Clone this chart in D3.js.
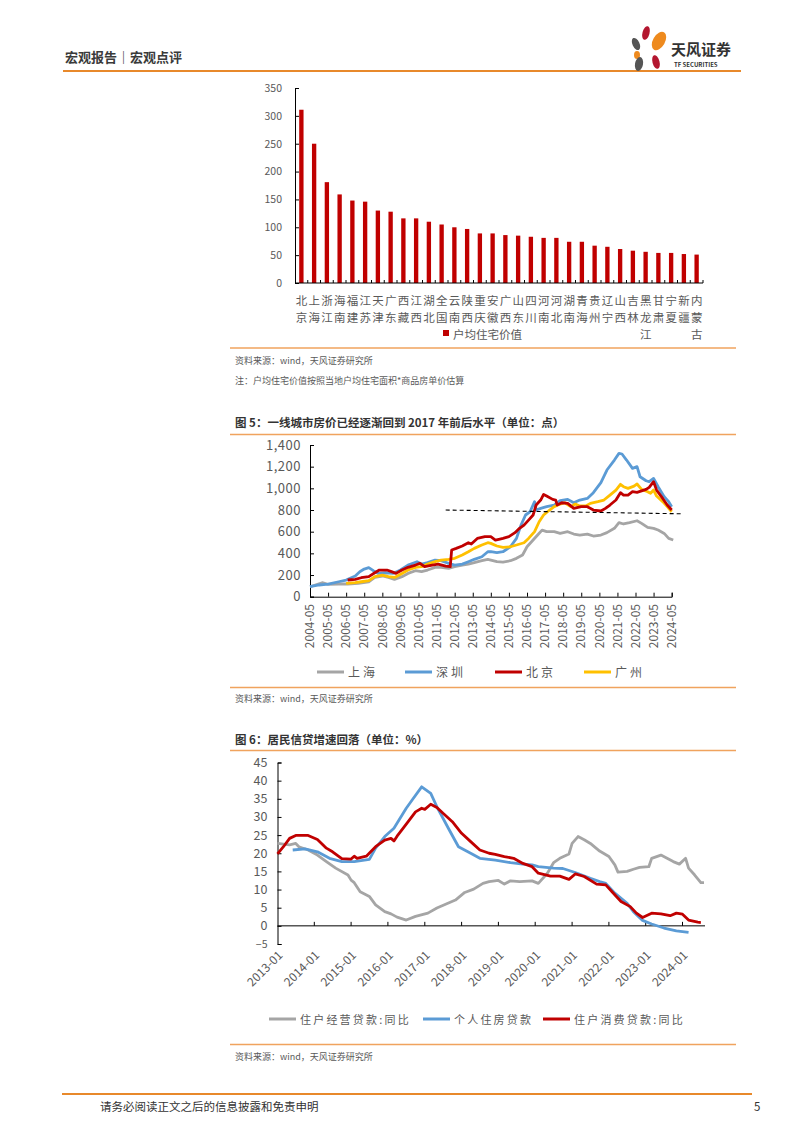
<!DOCTYPE html>
<html><head><meta charset="utf-8">
<script src="https://cdn.jsdelivr.net/npm/d3@7"></script>
<style>
html,body{margin:0;padding:0;background:#fff;}
svg{display:block;}
text{font-family:"Noto Sans CJK SC","Noto Sans",sans-serif;}
</style></head><body>
<svg id="page" width="802" height="1133"></svg>
<script>
// ---------- data: bar chart ----------
const barCats = ["北京","上海","浙江","海南","福建","江苏","天津","广东","西藏","江西","湖北","全国","云南","陕西","重庆","安徽","广西","山东","四川","河南","河北","湖南","青海","贵州","辽宁","山西","吉林","黑龙江","甘肃","宁夏","新疆","内蒙古"];
const barValues = [311,250,181,159,148,146,130,128,116,116,110,105,100,97,89,89,86,85,83,81,81,74,74,67,65,61,58,56,54,54,52,51];
const barTicks = [0,50,100,150,200,250,300,350];
const barLegend = "户均住宅价值";

// ---------- data: figure 5 ----------
const c5TickVals = [0,200,400,600,800,1000,1200,1400];
const c5XLabels = ["2004-05","2005-05","2006-05","2007-05","2008-05","2009-05","2010-05","2011-05","2012-05","2013-05","2014-05","2015-05","2016-05","2017-05","2018-05","2019-05","2020-05","2021-05","2022-05","2023-05","2024-05"];
const c5Names = ["上海","深圳","北京","广州"];
const shDates = ["2004-05","2005-01","2005-05","2005-12","2006-06","2007-01","2007-08","2007-12","2008-05","2008-09","2009-01","2009-06","2009-10","2010-03","2010-07","2010-11","2011-04","2011-08","2012-01","2012-05","2012-10","2013-02","2013-06","2013-11","2014-03","2014-05","2014-09","2015-01","2015-06","2015-10","2016-02","2016-05","2016-09","2016-12","2017-03","2017-06","2017-11","2018-03","2018-08","2018-12","2019-04","2019-09","2020-01","2020-06","2020-10","2021-03","2021-06","2021-09","2022-01","2022-06","2022-09","2023-01","2023-05","2023-08","2023-12","2024-03","2024-06"];
const shValues = [92,129,114,117,117,123,138,178,191,178,160,185,215,240,231,246,271,271,261,277,292,301,314,332,345,338,323,320,332,354,385,461,523,569,615,600,600,584,600,578,569,578,560,569,591,631,683,671,683,701,677,640,631,615,584,538,523];
const szDates = ["2004-05","2004-11","2005-05","2005-12","2006-05","2006-11","2007-02","2007-05","2007-08","2007-11","2008-02","2008-07","2008-12","2009-05","2009-10","2010-04","2010-07","2010-11","2011-04","2011-08","2012-01","2012-05","2012-10","2013-02","2013-06","2013-11","2014-03","2014-05","2014-09","2015-01","2015-06","2015-10","2016-01","2016-04","2016-07","2016-10","2016-11","2017-02","2017-06","2017-11","2018-03","2018-08","2018-12","2019-04","2019-09","2020-01","2020-06","2020-10","2021-03","2021-06","2021-08","2021-11","2022-03","2022-06","2022-08","2022-12","2023-02","2023-05","2023-08","2023-12","2024-03","2024-05"];
const szValues = [92,108,117,138,154,191,231,255,268,240,215,221,215,246,292,323,301,314,338,332,308,292,301,323,345,369,415,415,406,415,461,538,661,754,784,877,800,815,831,846,886,898,867,892,907,960,1052,1169,1261,1323,1317,1261,1184,1200,1107,1070,1061,1092,1015,923,877,831];
const bjDates = ["2006-06","2006-11","2007-03","2007-08","2007-12","2008-03","2008-08","2008-11","2009-02","2009-06","2009-10","2010-03","2010-06","2010-09","2011-02","2011-06","2011-11","2012-02","2012-03","2012-06","2012-10","2013-02","2013-04","2013-08","2014-01","2014-05","2014-08","2014-11","2015-01","2015-05","2015-09","2015-12","2016-03","2016-06","2016-09","2016-11","2017-02","2017-04","2017-06","2017-10","2017-12","2018-01","2018-04","2018-08","2018-12","2019-05","2019-09","2020-01","2020-06","2020-09","2020-12","2021-04","2021-07","2021-09","2021-12","2022-03","2022-06","2022-12","2023-02","2023-05","2023-07","2023-11","2024-02","2024-05"];
const bjValues = [154,160,175,185,221,246,246,231,215,246,271,292,308,277,292,301,283,277,431,446,468,498,486,538,554,554,523,532,538,554,591,631,661,707,754,846,892,944,929,898,892,846,867,861,815,831,831,800,791,815,846,892,960,938,938,969,963,990,1009,1061,984,907,846,800];
const gzDates = ["2006-05","2006-11","2007-03","2007-08","2007-12","2008-05","2008-09","2009-01","2009-06","2009-10","2010-03","2010-07","2010-11","2011-04","2011-08","2012-01","2012-05","2012-10","2013-02","2013-06","2013-11","2014-03","2014-05","2014-09","2015-01","2015-06","2015-10","2016-03","2016-06","2016-10","2017-01","2017-04","2017-08","2017-11","2018-03","2018-06","2018-10","2019-01","2019-04","2019-08","2019-11","2020-04","2020-08","2020-12","2021-04","2021-07","2021-09","2021-12","2022-04","2022-06","2022-09","2023-01","2023-03","2023-05","2023-07","2023-11","2024-02","2024-05"];
const gzValues = [123,129,138,148,185,200,185,178,215,246,271,277,301,323,338,345,354,385,415,446,477,498,492,468,455,461,477,498,538,600,692,754,800,831,855,867,831,855,837,837,861,877,892,938,984,1037,1015,1000,1021,1040,990,969,954,984,929,877,831,784];
const refDates = ["2011-11","2024-12"];
const refValues = [800,765];

// ---------- data: figure 6 ----------
const c6TickVals = [-5,0,5,10,15,20,25,30,35,40,45];
const c6XLabels = ["2013-01","2014-01","2015-01","2016-01","2017-01","2018-01","2019-01","2020-01","2021-01","2022-01","2023-01","2024-01"];
const c6Names = ["住户经营贷款:同比","个人住房贷款","住户消费贷款:同比"];
const bizDates = ["2013-01","2013-03","2013-05","2013-07","2013-08","2013-11","2014-02","2014-05","2014-08","2014-12","2015-01","2015-02","2015-04","2015-07","2015-09","2015-12","2016-02","2016-04","2016-07","2016-10","2017-02","2017-05","2017-08","2017-11","2018-02","2018-05","2018-08","2018-10","2019-01","2019-03","2019-05","2019-08","2019-12","2020-02","2020-05","2020-07","2020-09","2020-12","2021-01","2021-03","2021-05","2021-07","2021-10","2022-01","2022-03","2022-04","2022-07","2022-09","2022-11","2023-02","2023-03","2023-06","2023-08","2023-10","2023-12","2024-02","2024-03","2024-05","2024-07","2024-08"];
const bizValues = [22.7,22.5,22.3,22.7,21.8,20.9,19.5,17.7,15.9,14.0,12.6,11.9,9.4,8.1,5.8,3.9,3.3,2.4,1.6,2.6,3.5,4.9,6.0,7.1,9.2,10.1,11.7,12.2,12.5,11.5,12.4,12.2,12.4,11.7,14.5,17.4,18.6,19.8,22.7,24.6,23.7,22.7,20.6,19.1,16.8,14.8,15.0,15.6,16.1,16.3,18.6,19.5,18.6,17.7,17.0,18.6,15.9,14.0,11.9,11.9];
const mortDates = ["2013-06","2013-10","2014-02","2014-06","2014-10","2015-02","2015-07","2015-09","2015-12","2016-03","2016-07","2016-09","2016-12","2017-03","2017-05","2017-09","2017-12","2018-04","2018-07","2018-12","2019-05","2019-09","2019-12","2020-02","2020-07","2020-10","2021-02","2021-07","2021-10","2021-12","2022-03","2022-07","2022-09","2022-12","2023-03","2023-07","2023-11","2024-03"];
const mortValues = [20.9,21.2,20.4,18.6,17.7,17.7,18.3,21.4,24.6,26.9,32.4,34.8,38.3,36.5,32.8,26.4,21.8,20.0,18.6,18.1,17.4,17.0,16.8,16.3,15.9,15.8,14.7,13.1,12.2,11.7,9.0,6.2,3.9,1.5,0.5,-0.6,-1.4,-1.8];
const consDates = ["2013-01","2013-03","2013-05","2013-07","2013-11","2014-02","2014-05","2014-07","2014-10","2015-01","2015-02","2015-03","2015-06","2015-09","2015-12","2016-02","2016-03","2016-04","2016-07","2016-10","2016-12","2017-01","2017-03","2017-05","2017-07","2017-10","2018-01","2018-04","2018-07","2018-10","2018-12","2019-03","2019-06","2019-09","2019-12","2020-02","2020-06","2020-09","2020-12","2021-02","2021-05","2021-09","2021-12","2022-02","2022-05","2022-08","2022-10","2022-12","2023-03","2023-06","2023-09","2023-11","2024-01","2024-03","2024-06","2024-07"];
const consValues = [19.8,21.8,24.1,24.9,24.9,23.8,21.4,20.4,18.5,18.4,19.2,18.6,19.2,21.8,23.6,24.1,23.4,24.7,28.0,31.4,32.4,32.1,33.5,32.6,31.0,28.7,25.5,23.2,20.9,20.0,19.7,19.1,18.6,17.2,16.3,14.5,13.7,13.7,12.8,14.3,13.6,11.5,11.3,9.4,6.7,5.3,3.5,2.3,3.5,3.3,2.8,3.5,3.2,1.6,1.0,0.9];

// ---------- drawing ----------
const svg = d3.select("#page");
const parse = d3.timeParse("%Y-%m");
const GREY_TXT = "#595959";
const ORANGE = "#F0A35E";

// header
svg.append("text").attr("x",65).attr("y",62).attr("font-size",13).attr("font-weight",700).attr("fill","#3a3a3a").text("宏观报告｜宏观点评");
svg.append("line").attr("x1",63).attr("x2",741).attr("y1",71).attr("y2",71).attr("stroke","#E8892B").attr("stroke-width",2);
// logo
const logo = svg.append("g");
const petals = [
  {cx:646,cy:33,rx:3.5,ry:7,rot:15,c:"#B3162F"},
  {cx:659,cy:41,rx:6,ry:10,rot:30,c:"#EE8A1E"},
  {cx:636,cy:44,rx:3.5,ry:6.5,rot:-25,c:"#555555"},
  {cx:637,cy:55,rx:3,ry:4,rot:0,c:"#EE8A1E"},
  {cx:639,cy:64,rx:4,ry:7,rot:10,c:"#555555"},
  {cx:656,cy:62,rx:3.5,ry:7,rot:-15,c:"#B3162F"}
];
petals.forEach(p=>logo.append("ellipse").attr("cx",p.cx).attr("cy",p.cy).attr("rx",p.rx).attr("ry",p.ry)
  .attr("transform",`rotate(${p.rot},${p.cx},${p.cy})`).attr("fill",p.c));
svg.append("text").attr("x",671).attr("y",55).attr("font-size",15).attr("font-weight",700).attr("fill","#333").text("天风证券");
svg.append("text").attr("x",674).attr("y",67).attr("font-size",6).attr("font-family","Liberation Sans, sans-serif").attr("font-weight",700).attr("fill","#333").text("TF SECURITIES");

// footer
svg.append("line").attr("x1",62).attr("x2",752).attr("y1",1094).attr("y2",1094).attr("stroke","#E8892B").attr("stroke-width",2);
svg.append("text").attr("x",100).attr("y",1111).attr("font-size",11.5).attr("fill","#333").text("请务必阅读正文之后的信息披露和免责申明");
svg.append("text").attr("x",754).attr("y",1111).attr("font-size",11.5).attr("fill","#333").text("5");

// ===== bar chart =====
{
  const x = d3.scaleBand().domain(barCats).range([295,703]).paddingInner(0.66).paddingOuter(0.33);
  const y = d3.scaleLinear().domain([0,350]).range([283,88]);
  const g = svg.append("g");
  g.selectAll("rect.bar").data(barValues).join("rect")
    .attr("x",(d,i)=>x(barCats[i])).attr("width",x.bandwidth())
    .attr("y",d=>y(d)).attr("height",d=>y(0)-y(d)).attr("fill","#C00000");
  const ya = d3.axisLeft(y).tickValues(barTicks).tickSize(-4).tickPadding(13);
  const yg = g.append("g").attr("transform","translate(295,0)").call(ya);
  yg.select(".domain").attr("stroke","#000");
  yg.selectAll(".tick line").attr("stroke","#000");
  yg.selectAll("text").attr("font-size",10.5).attr("fill",GREY_TXT).attr("font-family","Liberation Sans, sans-serif");
  g.append("line").attr("x1",295).attr("x2",703).attr("y1",y(0)).attr("y2",y(0)).attr("stroke","#000");
  const step = x.step();
  barCats.forEach((c,i)=>{
    const tx = x(c) - x.paddingOuter()*step + step; // boundary after category
    g.append("line").attr("x1",tx).attr("x2",tx).attr("y1",y(0)).attr("y2",y(0)-3).attr("stroke","#000");
    const cx = x(c)+x.bandwidth()/2;
    Array.from(c).forEach((ch,j)=>{
      g.append("text").attr("x",cx).attr("y",304.5+j*17).attr("text-anchor","middle")
        .attr("font-size",11.5).attr("fill",GREY_TXT).text(ch);
    });
  });
  g.append("rect").attr("x",443).attr("y",330).attr("width",6).attr("height",6).attr("fill","#C00000");
  g.append("text").attr("x",453).attr("y",338.5).attr("font-size",11.5).attr("fill",GREY_TXT).text(barLegend);
}
svg.append("line").attr("x1",230).attr("x2",736).attr("y1",348).attr("y2",348).attr("stroke",ORANGE).attr("stroke-width",1.5);
svg.append("text").attr("x",235).attr("y",364).attr("font-size",9).attr("fill",GREY_TXT).text("资料来源：wind，天风证券研究所");
svg.append("text").attr("x",235).attr("y",384).attr("font-size",9).attr("fill",GREY_TXT).text("注：户均住宅价值按照当地户均住宅面积*商品房单价估算");

// ===== figure 5 =====
svg.append("text").attr("x",235).attr("y",427).attr("font-size",11.5).attr("font-weight",700).attr("fill","#333").text("图 5：一线城市房价已经逐渐回到 2017 年前后水平（单位：点）");
svg.append("line").attr("x1",230).attr("x2",736).attr("y1",434.5).attr("y2",434.5).attr("stroke",ORANGE).attr("stroke-width",1.5);
{
  const x = d3.scaleTime().domain([parse("2004-05"),parse("2024-05")]).range([310,671.7]);
  const y = d3.scaleLinear().domain([0,1400]).range([596.7,445]);
  const g = svg.append("g");
  const ya = d3.axisLeft(y).tickValues(c5TickVals).tickSize(-4).tickPadding(9).tickFormat(d3.format(","));
  const yg = g.append("g").attr("transform","translate(310,0)").call(ya);
  yg.select(".domain").attr("stroke","#000");
  yg.selectAll(".tick line").attr("stroke","#000");
  yg.selectAll("text").attr("font-size",13).attr("fill",GREY_TXT).attr("font-family","DejaVu Sans, sans-serif").attr("letter-spacing",0.5);
  const xa = d3.axisBottom(x).tickValues(c5XLabels.map(parse)).tickSize(-4).tickFormat("");
  const xg = g.append("g").attr("transform",`translate(0,${y(0)})`).call(xa);
  xg.select(".domain").attr("stroke","#000");
  xg.selectAll(".tick line").attr("stroke","#000");
  c5XLabels.forEach(l=>{
    g.append("text").attr("transform",`translate(${x(parse(l))},604) rotate(-90)`)
      .attr("text-anchor","end").attr("dy","0.35em").attr("font-size",12).attr("fill",GREY_TXT)
      .attr("font-family","DejaVu Sans, sans-serif").text(l);
  });
  const line = d3.line().x(d=>x(d[0])).y(d=>y(d[1]));
  const series = [
    {d:shDates,v:shValues,c:"#A5A5A5"},
    {d:szDates,v:szValues,c:"#5B9BD5"},
    {d:bjDates,v:bjValues,c:"#C00000"},
    {d:gzDates,v:gzValues,c:"#FFC000"}
  ];
  const drawOrder = [0,1,3,2];
  drawOrder.forEach(k=>{
    const s = series[k];
    g.append("path").datum(s.d.map((dt,i)=>[parse(dt),s.v[i]])).attr("d",line)
      .attr("fill","none").attr("stroke",s.c).attr("stroke-width",2.8).attr("stroke-linejoin","round");
  });
  g.append("path").datum(refDates.map((dt,i)=>[parse(dt),refValues[i]])).attr("d",line)
    .attr("fill","none").attr("stroke","#000").attr("stroke-width",1.1).attr("stroke-dasharray","4,3");
  const lx = [317,405,495,584];
  series.forEach((s,i)=>{
    g.append("line").attr("x1",lx[i]).attr("x2",lx[i]+27).attr("y1",672).attr("y2",672).attr("stroke",s.c).attr("stroke-width",3);
    g.append("text").attr("x",lx[i]+31).attr("y",676.5).attr("font-size",12).attr("letter-spacing",3).attr("fill",GREY_TXT).text(c5Names[i]);
  });
}
svg.append("line").attr("x1",230).attr("x2",736).attr("y1",687.5).attr("y2",687.5).attr("stroke",ORANGE).attr("stroke-width",1.5);
svg.append("text").attr("x",235).attr("y",702).attr("font-size",9).attr("fill",GREY_TXT).text("资料来源：wind，天风证券研究所");

// ===== figure 6 =====
svg.append("text").attr("x",235).attr("y",744).attr("font-size",11.5).attr("font-weight",700).attr("fill","#333").text("图 6：居民信贷增速回落（单位：%）");
svg.append("line").attr("x1",230).attr("x2",736).attr("y1",750.5).attr("y2",750.5).attr("stroke",ORANGE).attr("stroke-width",1.5);
{
  const x = d3.scaleTime().domain([parse("2013-01"),parse("2024-01")]).range([277.5,682.5]);
  const y = d3.scaleLinear().domain([-5,45]).range([944,762.5]);
  const g = svg.append("g");
  const ya = d3.axisLeft(y).tickValues(c6TickVals).tickSize(-4).tickPadding(10);
  const yg = g.append("g").attr("transform","translate(277.5,0)").call(ya);
  yg.select(".domain").attr("stroke","#000");
  yg.selectAll(".tick line").attr("stroke","#000");
  yg.selectAll("text").attr("font-size",12.5).attr("fill",GREY_TXT).attr("font-family","DejaVu Sans, sans-serif");
  yg.selectAll(".tick").filter(d=>d===-5).select("text").attr("font-size",10.5);
  const xTicks = c6XLabels.slice(1).map(parse);
  xTicks.forEach(t=>{
    g.append("line").attr("x1",x(t)).attr("x2",x(t)).attr("y1",y(0)).attr("y2",y(0)-4).attr("stroke","#000");
  });
  g.append("line").attr("x1",277.5).attr("x2",705).attr("y1",y(0)).attr("y2",y(0)).attr("stroke","#000");
  c6XLabels.forEach(l=>{
    g.append("text").attr("transform",`translate(${x(parse(l))+3},953) rotate(-45)`)
      .attr("text-anchor","end").attr("dy","0.35em").attr("font-size",12).attr("fill",GREY_TXT)
      .attr("font-family","DejaVu Sans, sans-serif").text(l);
  });
  const line = d3.line().x(d=>x(d[0])).y(d=>y(d[1]));
  const series = [
    {d:bizDates,v:bizValues,c:"#A5A5A5"},
    {d:mortDates,v:mortValues,c:"#5B9BD5"},
    {d:consDates,v:consValues,c:"#C00000"}
  ];
  series.forEach(s=>{
    g.append("path").datum(s.d.map((dt,i)=>[parse(dt),s.v[i]])).attr("d",line)
      .attr("fill","none").attr("stroke",s.c).attr("stroke-width",2.8).attr("stroke-linejoin","round");
  });
  const lx = [269,423,543];
  series.forEach((s,i)=>{
    g.append("line").attr("x1",lx[i]).attr("x2",lx[i]+27).attr("y1",1019).attr("y2",1019).attr("stroke",s.c).attr("stroke-width",3);
    g.append("text").attr("x",lx[i]+31).attr("y",1023.5).attr("font-size",11).attr("letter-spacing",2.2).attr("fill",GREY_TXT).text(c6Names[i]);
  });
}
svg.append("line").attr("x1",230).attr("x2",736).attr("y1",1044.5).attr("y2",1044.5).attr("stroke",ORANGE).attr("stroke-width",1.5);
svg.append("text").attr("x",235).attr("y",1060).attr("font-size",9).attr("fill",GREY_TXT).text("资料来源：wind，天风证券研究所");
</script>
</body></html>
